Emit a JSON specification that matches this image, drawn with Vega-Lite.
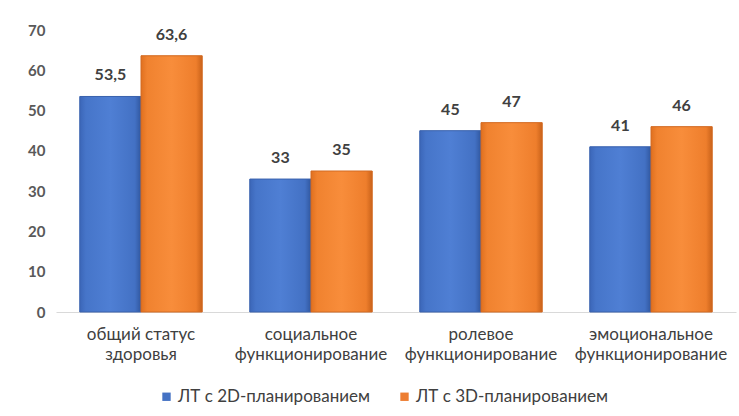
{
  "$schema": "https://vega.github.io/schema/vega-lite/v6.json",
  "width": 680,
  "height": 282,
  "autosize": {"type": "none"},
  "padding": {"left": 56, "top": 30, "right": 3, "bottom": 104},
  "background": "white",
  "config": {
    "view": {"stroke": null},
    "font": "Lato",
    "locale": {"number": {"decimal": ",", "thousands": " ", "grouping": [3], "currency": ["", ""]}}
  },
  "data": {
    "values": [
      {"category": "общий статус здоровья", "group": "ЛТ с 2D-планированием", "value": 53.5},
      {"category": "общий статус здоровья", "group": "ЛТ с 3D-планированием", "value": 63.6},
      {"category": "социальное функционирование", "group": "ЛТ с 2D-планированием", "value": 33},
      {"category": "социальное функционирование", "group": "ЛТ с 3D-планированием", "value": 35},
      {"category": "ролевое функционирование", "group": "ЛТ с 2D-планированием", "value": 45},
      {"category": "ролевое функционирование", "group": "ЛТ с 3D-планированием", "value": 47},
      {"category": "эмоциональное функционирование", "group": "ЛТ с 2D-планированием", "value": 41},
      {"category": "эмоциональное функционирование", "group": "ЛТ с 3D-планированием", "value": 46}
    ]
  },
  "encoding": {
    "x": {
      "field": "category", "type": "nominal", "sort": null,
      "scale": {"paddingInner": 0.28, "paddingOuter": 0.14},
      "axis": {
        "title": null, "labelAngle": 0, "ticks": false,
        "domainColor": "#d9d9d9", "domainWidth": 1,
        "labelFontSize": 17, "labelColor": "#404040", "labelPadding": 14,
        "labelLineHeight": 20, "labelLimit": 300,
        "labelExpr": "datum.value == 'общий статус здоровья' ? ['общий статус', 'здоровья'] : split(datum.value, ' ')"
      }
    },
    "xOffset": {"field": "group", "type": "nominal", "sort": null},
    "y": {
      "field": "value", "type": "quantitative",
      "scale": {"domain": [0, 70]},
      "axis": {
        "title": null, "grid": false, "domain": false, "ticks": false,
        "values": [0, 10, 20, 30, 40, 50, 60, 70],
        "labelFontSize": 15, "labelFontWeight": "bold", "labelColor": "#595959", "labelPadding": 11
      }
    }
  },
  "layer": [
    {
      "mark": {"type": "bar"},
      "encoding": {
        "color": {
          "field": "group", "type": "nominal", "sort": null,
          "scale": {"range": ["#4472c4", "#ed7d31"]},
          "legend": {
            "title": null, "orient": "none", "direction": "horizontal",
            "legendX": 102, "legendY": 358,
            "symbolType": "square", "symbolSize": 70, "symbolStrokeWidth": 0,
            "labelFontSize": 17, "labelColor": "#404040", "labelLimit": 300,
            "labelOffset": 3, "columnPadding": 26
          }
        }
      }
    },
    {
      "mark": {"type": "bar", "strokeWidth": 1},
      "encoding": {
        "fill": {
          "condition": {
            "test": "datum.group == 'ЛТ с 2D-планированием'",
            "value": {"gradient": "linear", "x1": 0, "x2": 1, "y1": 0, "y2": 0,
              "stops": [{"offset": 0, "color": "#3b66b8"}, {"offset": 0.1, "color": "#4675c9"}, {"offset": 0.5, "color": "#4f7fd4"}, {"offset": 0.9, "color": "#4371c4"}, {"offset": 1, "color": "#30579f"}]}
          },
          "value": {"gradient": "linear", "x1": 0, "x2": 1, "y1": 0, "y2": 0,
            "stops": [{"offset": 0, "color": "#e0701f"}, {"offset": 0.1, "color": "#f0822f"}, {"offset": 0.5, "color": "#f88d3b"}, {"offset": 0.9, "color": "#ee7e2c"}, {"offset": 1, "color": "#c9621a"}]}
        },
        "stroke": {
          "condition": {"test": "datum.group == 'ЛТ с 2D-планированием'", "value": "#3a62ad"},
          "value": "#d26a22"
        }
      }
    },
    {
      "mark": {"type": "text", "dy": -21, "fontSize": 16, "fontWeight": "bold", "color": "#404040"},
      "encoding": {
        "text": {"field": "value", "type": "quantitative", "format": ".1~f"}
      }
    }
  ]
}
